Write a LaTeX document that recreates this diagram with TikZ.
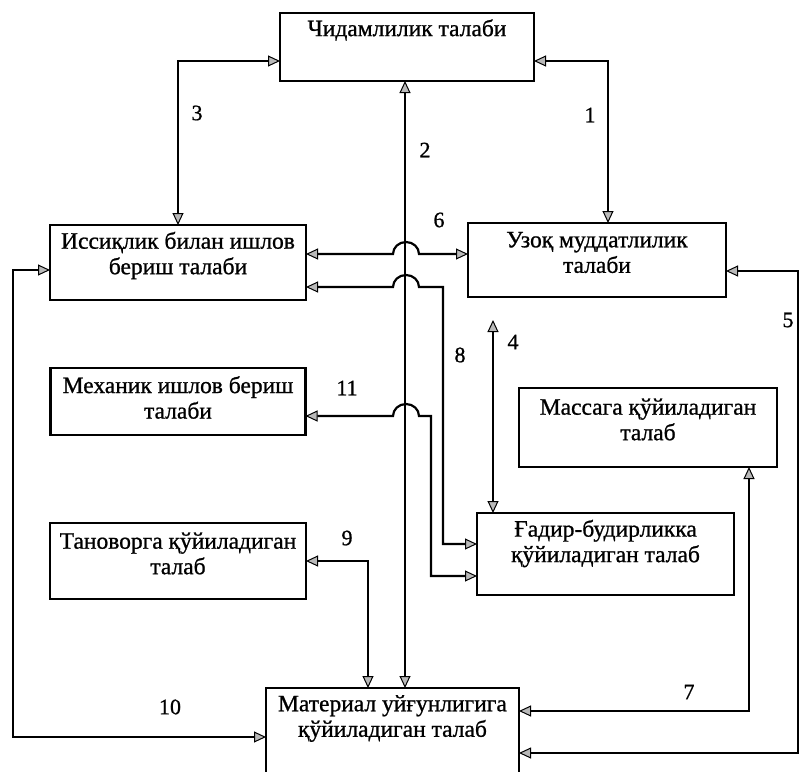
\documentclass[tikz,border=0pt]{standalone}
\usepackage{fontspec}
\setmainfont{Liberation Serif}[FakeBold=0.9]
\usetikzlibrary{arrows.meta}
\begin{document}
\begin{tikzpicture}[x=1pt,y=1pt,
  box/.style={draw,line width=2.2pt,inner sep=0pt,outer sep=0pt},
  txt/.style={font=\fontsize{23.5}{25.5}\selectfont,align=center,inner sep=0pt},
  num/.style={font=\fontsize{22}{25}\selectfont,inner sep=0pt},
  tip/.tip={Triangle[length=12pt,width=11pt,fill=gray!55,line width=1pt]},
  link/.style={line width=2.2pt,tip-tip}
]
\useasboundingbox (0,0) rectangle (800,-771);
\clip (0,0) rectangle (800,-771);

% boxes
\node[box,minimum width=254pt,minimum height=68pt] (chid)  at (407,-47)   {};
\node[box,minimum width=256pt,minimum height=75pt] (iss)   at (178,-262.5) {};
\node[box,minimum width=258pt,minimum height=74pt] (uzoq)  at (597,-260)  {};
\node[box,minimum width=255pt,minimum height=67pt] (mex)   at (178,-401.5) {};
\node[box,minimum width=258pt,minimum height=79pt] (massa) at (648,-427.5) {};
\node[box,minimum width=256pt,minimum height=76pt] (tanov) at (178,-561)  {};
\node[box,minimum width=257pt,minimum height=82pt] (gadir) at (605.5,-554) {};
\node[box,minimum width=253pt,minimum height=130pt] (mat)  at (392.5,-753) {};

% box texts
\node[txt] (chidT)  at (407,-30)   {Чидамлилик талаби};
\node[txt] (issT)   at (178,-255.5) {Иссиқлик билан ишлов\\бериш талаби};
\node[txt] (uzoqT)  at (597,-252.5) {Узоқ муддатлилик\\талаби};
\node[txt] (mexT)   at (178,-397.5) {Механик ишлов бериш\\талаби};
\node[txt] (massaT) at (648,-419.5) {Массага қўйиладиган\\талаб};
\node[txt] (tanovT) at (178,-553.5) {Тановорга қўйиладиган\\талаб};
\node[txt] (gadirT) at (605.5,-543.5) {Ғадир-будирликка\\қўйиладиган талаб};
\node[txt] (matT)   at (392.5,-718.5) {Материал уйғунлигига\\қўйиладиган талаб};

% connectors
\draw[link] (chid.west |- 0,-61) -| (iss.north);
\draw[link] (chid.east |- 0,-61) -| (uzoq.north -| 608,0);
\draw[link] (mat.north -| 405,0) -- (chid.south -| 405,0);
\draw[link] (iss.east |- 0,-254) -- (393,-254)
  arc[start angle=180,end angle=0,x radius=13pt,y radius=12pt]
  -- (uzoq.west |- 0,-254);
\draw[link] (iss.east |- 0,-287) -- (393,-287)
  arc[start angle=180,end angle=0,x radius=13pt,y radius=12pt]
  -- (443,-287) |- (gadir.west |- 0,-544);
\draw[link] (mex.east |- 0,-416) -- (393,-416)
  arc[start angle=180,end angle=0,x radius=13pt,y radius=12pt]
  -- (431,-416) |- (gadir.west |- 0,-576);
\coordinate (c4) at (493,-320);
\draw[link] (c4) -- (gadir.north -| c4);
\draw[link] (uzoq.east |- 0,-271) -- (798,-271) |- (mat.east |- 0,-753);
\draw[link] (massa.south -| 749,0) |- (mat.east |- 0,-711);
\draw[link] (tanov.east |- 0,-561) -| (mat.north -| 368,0);
\draw[link] (iss.west |- 0,-270) -- (13,-270) |- (mat.west |- 0,-737);

% connector numbers
\node[num] (n1)  at (590,-115) {1};
\node[num] (n2)  at (425,-150) {2};
\node[num] (n3)  at (197,-113) {3};
\node[num] (n4)  at (513,-342) {4};
\node[num] (n5)  at (788,-320) {5};
\node[num] (n6)  at (439,-220) {6};
\node[num] (n7)  at (689,-692) {7};
\node[num] (n8)  at (460,-355) {8};
\node[num] (n9)  at (347,-538) {9};
\node[num] (n10) at (170,-707) {10};
\node[num] (n11) at (347,-388) {11};
\end{tikzpicture}
\end{document}
